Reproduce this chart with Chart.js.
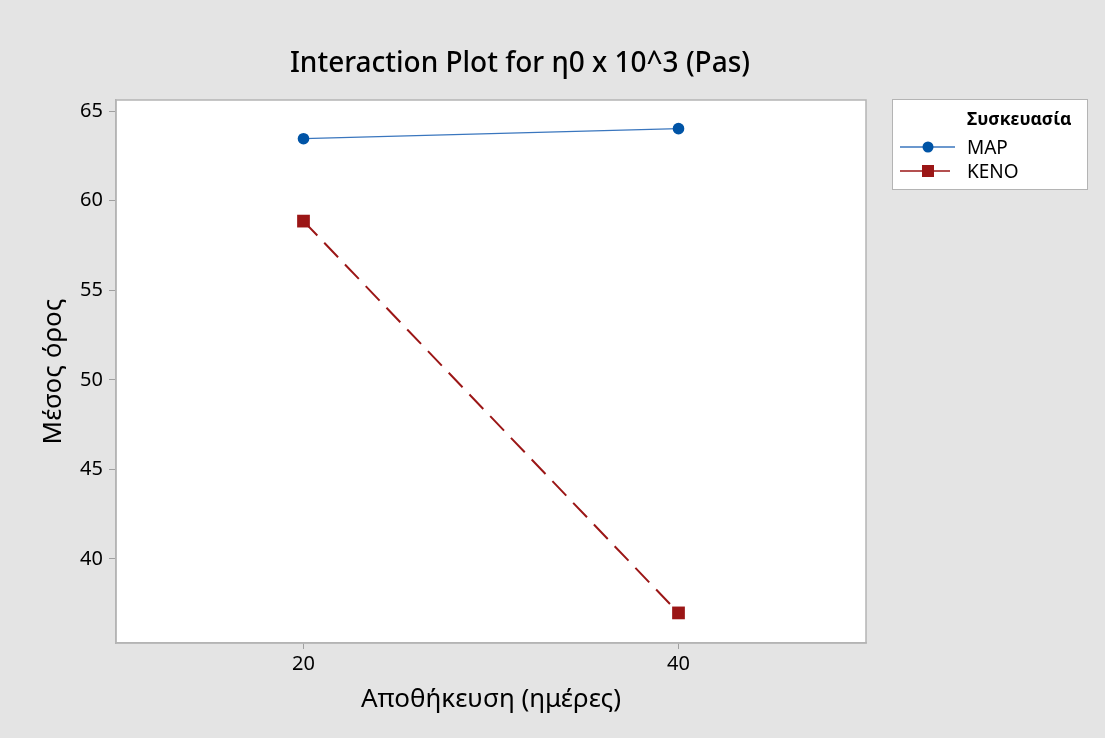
<!DOCTYPE html>
<html>
<head>
<meta charset="utf-8">
<script src="https://cdn.jsdelivr.net/npm/chart.js@4/dist/chart.umd.min.js"></script>
<style>
  html, body { margin:0; padding:0; background:#e4e4e4; }
  #wrap { width:1105px; height:738px; position:relative; }
</style>
</head>
<body>
<div id="wrap"><canvas id="c" width="1105" height="738"></canvas></div>
<script>
const chartTitle = 'Interaction Plot for η0 x 10^3 (Pas)';
const xTitle = 'Αποθήκευση (ημέρες)';
const yTitle = 'Μέσος όρος';
const legendTitle = 'Συσκευασία';
const categories = [20, 40];
const seriesNames = ['MAP', 'KENO'];
const mapValues = [63.46, 64.02];
const kenoValues = [58.86, 36.99];
const xTicks = [20, 40];
const yTicks = [40, 45, 50, 55, 60, 65];

const FONT = '"Noto Sans", "Open Sans", sans-serif';
const blue = '#0054a6', blueLine = '#3a76be';
const red = '#9b1616';

const pts = vals => categories.map((c, i) => ({x: c, y: vals[i]}));

const decor = {
  id: 'decor',
  beforeDraw(chart) {
    const {ctx, chartArea: a} = chart;
    ctx.save();
    ctx.fillStyle = '#e4e4e4';
    ctx.fillRect(0, 0, chart.width, chart.height);
    ctx.fillStyle = '#ffffff';
    ctx.fillRect(a.left, a.top, a.right - a.left, a.bottom - a.top);
    ctx.restore();
  },
  afterDraw(chart) {
    const {ctx, chartArea: a} = chart;
    ctx.save();
    ctx.strokeStyle = '#b4b4b4';
    ctx.lineWidth = 1.5;
    ctx.strokeRect(a.left, a.top, a.right - a.left, a.bottom - a.top);
    ctx.fillStyle = '#000';
    ctx.font = '500 28px ' + FONT;
    ctx.textAlign = 'center';
    ctx.textBaseline = 'alphabetic';
    ctx.fillText(chartTitle, 520, 72);
    ctx.fillStyle = '#ffffff';
    ctx.fillRect(892, 99, 195, 90);
    ctx.strokeStyle = '#b4b4b4';
    ctx.lineWidth = 1;
    ctx.strokeRect(892.5, 99.5, 195, 90);
    ctx.fillStyle = '#000';
    ctx.textAlign = 'left';
    ctx.font = 'bold 17.5px ' + FONT;
    ctx.fillText(legendTitle, 967, 125);
    const ds = chart.data.datasets;
    const rows = [147, 171];
    ds.forEach((d, i) => {
      const y = rows[i];
      ctx.strokeStyle = d.borderColor;
      ctx.lineWidth = 1.5;
      ctx.setLineDash([]);
      ctx.beginPath();
      ctx.moveTo(900, y); ctx.lineTo(i === 0 ? 955 : 950, y);
      ctx.stroke();
      ctx.fillStyle = d.pointBackgroundColor;
      if (i === 0) {
        ctx.beginPath(); ctx.arc(928, y, 5.5, 0, Math.PI * 2); ctx.fill();
      } else {
        ctx.fillRect(922, y - 6, 12, 12);
      }
      ctx.fillStyle = '#000';
      ctx.font = '19px ' + FONT;
      ctx.textBaseline = 'alphabetic';
      ctx.fillText(d.label, 967, y + 7);
    });
    ctx.restore();
  }
};

new Chart(document.getElementById('c'), {
  type: 'scatter',
  data: {
    datasets: [
      {
        label: seriesNames[0],
        data: pts(mapValues),
        showLine: true,
        borderColor: blueLine,
        borderWidth: 1.2,
        pointStyle: 'circle',
        pointRadius: 5.8,
        pointBackgroundColor: blue,
        pointBorderColor: blue,
        pointBorderWidth: 0
      },
      {
        label: seriesNames[1],
        data: pts(kenoValues),
        showLine: true,
        borderColor: red,
        borderWidth: 2,
        borderDash: [20, 10],
        pointStyle: 'rect',
        pointRadius: 9,
        pointBackgroundColor: red,
        pointBorderColor: red,
        pointBorderWidth: 0
      }
    ]
  },
  options: {
    responsive: false,
    animation: false,
    devicePixelRatio: 1,
    layout: { padding: { left: 0, top: 100, right: 239, bottom: 0 } },
    plugins: { legend: { display: false }, title: { display: false }, tooltip: { enabled: false } },
    scales: {
      x: {
        type: 'linear',
        min: 10, max: 50,
        afterBuildTicks: s => { s.ticks = xTicks.map(v => ({value: v})); },
        afterFit: s => { s.height = 95; },
        grid: { drawOnChartArea: false, drawTicks: true, tickLength: 6, color: '#a0a0a0' },
        border: { display: true, color: '#b4b4b4', width: 1.5 },
        ticks: { color: '#000', font: { family: FONT, size: 20 }, padding: 3 },
        title: { display: true, text: xTitle, color: '#000', font: { family: FONT, size: 26 }, padding: { top: 0, bottom: 23 } }
      },
      y: {
        type: 'linear',
        min: 35.31, max: 65.62,
        afterBuildTicks: s => { s.ticks = yTicks.map(v => ({value: v})); },
        afterFit: s => { s.width = 116; },
        grid: { drawOnChartArea: false, drawTicks: true, tickLength: 7, color: '#a0a0a0' },
        border: { display: true, color: '#b4b4b4', width: 1.5 },
        ticks: { color: '#000', font: { family: FONT, size: 20 }, padding: 6 },
        title: { display: true, text: yTitle, color: '#000', font: { family: FONT, size: 26 }, padding: { top: 38, bottom: 0 } }
      }
    }
  },
  plugins: [decor]
});
</script>
</body>
</html>
